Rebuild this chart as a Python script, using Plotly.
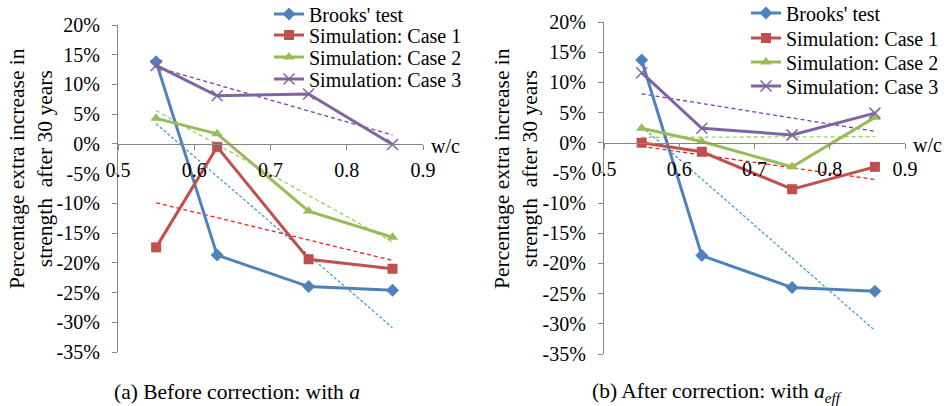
import plotly.graph_objects as go

wc = [0.55, 0.63, 0.75, 0.86]

# (a) before correction, values in %
brooks_a = [13.8, -18.7, -24.0, -24.6]
case1_a = [-17.4, -0.5, -19.4, -21.0]
case2_a = [4.3, 1.7, -11.3, -15.7]
case3_a = [13.2, 8.1, 8.4, -0.1]

# (b) after correction, values in %
brooks_b = [13.7, -18.7, -24.0, -24.6]
case1_b = [0.0, -1.5, -7.7, -4.0]
case2_b = [2.4, 0.2, -4.0, 4.2]
case3_b = [11.6, 2.4, 1.3, 4.9]

# trendline end points (at w/c = 0.55 and 0.86)
trend_x = [0.55, 0.86]
trend_a = {"brooks": [3.4, -30.9], "case1": [-9.9, -19.6], "case2": [5.6, -16.5], "case3": [12.9, 1.5]}
trend_b = {"brooks": [2.7, -31.1], "case1": [-0.6, -6.1], "case2": [0.9, 1.0], "case3": [8.1, 1.9]}

y_ticks = [20, 15, 10, 5, 0, -5, -10, -15, -20, -25, -30, -35]
y_ticktext = ["20%", "15%", "10%", "5%", "0%", "-5%", "-10%", "-15%", "-20%", "-25%", "-30%", "-35%"]
x_ticks = [0.5, 0.6, 0.7, 0.8, 0.9]
x_ticktext = ["0.5", "0.6", "0.7", "0.8", "0.9"]

names = ["Brooks' test", "Simulation: Case 1", "Simulation: Case 2", "Simulation: Case 3"]
keys = ["brooks", "case1", "case2", "case3"]
colors = ["#4F81BD", "#C0504D", "#9BBB59", "#8064A2"]
trend_colors = ["#4A9BD8", "#E8231F", "#9BD35A", "#7B3FB0"]
symbols = ["diamond", "square", "triangle-up", "x-thin"]
SERIF = "Liberation Serif, Times New Roman, Tinos, DejaVu Serif, serif"
AXIS_COL = "#868686"

W, H = 946, 406
fig = go.Figure()

panels = [
    dict(series=[brooks_a, case1_a, case2_a, case3_a], trend=trend_a, xa="x", ya="y",
         xpx=(118, 423), ypx=(25, 352), leg_x=269, leg_rows=[14, 35, 57, 79]),
    dict(series=[brooks_b, case1_b, case2_b, case3_b], trend=trend_b, xa="x2", ya="y2",
         xpx=(604, 905), ypx=(22, 354), leg_x=746, leg_rows=[13, 38, 62, 86]),
]

layout = dict(
    width=W, height=H,
    margin=dict(l=0, r=0, t=0, b=0, autoexpand=False),
    paper_bgcolor="white", plot_bgcolor="white",
    font=dict(family=SERIF, size=20, color="black"),
    annotations=[],
)

n_leg = 0
for p in panels:
    for k, tc in zip(keys, trend_colors):
        fig.add_trace(go.Scatter(
            x=trend_x, y=p["trend"][k], mode="lines", xaxis=p["xa"], yaxis=p["ya"],
            line=dict(color=tc, width=1.3, dash="3px,2px" if k == "brooks" else "4px,3px"),
            showlegend=False, hoverinfo="skip",
        ))
    for vals, name, c, s, row in zip(p["series"], names, colors, symbols, p["leg_rows"]):
        n_leg += 1
        leg = "legend" if n_leg == 1 else f"legend{n_leg}"
        fig.add_trace(go.Scatter(
            x=wc, y=vals, name=name, mode="lines+markers", xaxis=p["xa"], yaxis=p["ya"],
            legend=leg,
            line=dict(color=c, width=3),
            marker=dict(symbol=s, size=10 if s != "x-thin" else 11, color=c,
                        line=dict(color=c, width=1.5 if s == "x-thin" else 0)),
        ))
        # one legend per row so the row spacing can follow the reference
        layout[leg] = dict(
            font=dict(family=SERIF, size=20), bgcolor="rgba(0,0,0,0)",
            itemwidth=30, xanchor="left", yanchor="middle",
            xref="paper", yref="paper", x=p["leg_x"] / W, y=(H - row) / H,
        )

for i, p in enumerate(panels):
    sfx = "" if i == 0 else "2"
    x0, x1 = p["xpx"]
    top, bot = p["ypx"]
    ydom = [(H - bot) / H, (H - top) / H]
    xdom = [x0 / W, x1 / W]
    zero_pos = ydom[0] + (35 / 55) * (ydom[1] - ydom[0])
    layout["xaxis" + sfx] = dict(
        domain=xdom, range=[0.5, 0.9], anchor="free", position=zero_pos,
        tickvals=x_ticks, ticktext=x_ticktext, ticks="outside", ticklen=5,
        tickcolor=AXIS_COL, showline=True, linecolor=AXIS_COL, linewidth=1.3,
        showgrid=False, zeroline=False, ticklabelstandoff=3,
        tickfont=dict(family=SERIF, size=20),
    )
    layout["yaxis" + sfx] = dict(
        domain=ydom, range=[-35, 20], anchor="x" + sfx,
        tickvals=y_ticks, ticktext=y_ticktext, ticks="outside", ticklen=5,
        tickcolor=AXIS_COL, showline=True, linecolor=AXIS_COL, linewidth=1.3,
        showgrid=False, zeroline=False, ticklabelstandoff=8,
        tickfont=dict(family=SERIF, size=20),
    )
    layout["annotations"].append(dict(
        x=0.9, y=0, xref="x" + sfx, yref="y" + sfx, text="w/c", showarrow=False,
        xanchor="left", yanchor="middle", xshift=6, yshift=-2,
        font=dict(family=SERIF, size=20),
    ))

# y-axis titles
for xc in (31, 516):
    layout["annotations"].append(dict(
        x=xc / W, y=(H - 169) / H, xref="paper", yref="paper", textangle=-90,
        text="Percentage extra increase in<br>strength  after 30 years", showarrow=False,
        font=dict(family=SERIF, size=21.5), xanchor="center", yanchor="middle",
    ))
# captions
layout["annotations"].append(dict(
    x=237 / W, y=(H - 392) / H, xref="paper", yref="paper",
    text="(a) Before correction: with <i>a</i>", showarrow=False,
    font=dict(family=SERIF, size=21.5), xanchor="center", yanchor="middle",
))
layout["annotations"].append(dict(
    x=717 / W, y=(H - 392) / H, xref="paper", yref="paper",
    text="(b) After correction: with <i>a<sub>eff</sub></i>", showarrow=False,
    font=dict(family=SERIF, size=21.5), xanchor="center", yanchor="middle",
))

fig.update_layout(**layout)
fig.write_html("out.html", config={"displayModeBar": False},
               post_script="document.body.style.margin='0';")
